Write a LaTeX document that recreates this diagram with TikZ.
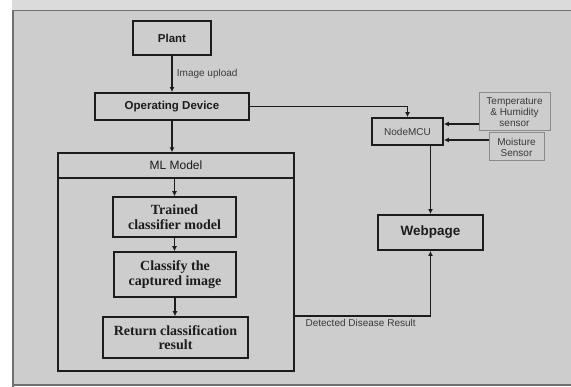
\documentclass[tikz,border=0pt]{standalone}
\usepackage{fontspec}
\setmainfont{Liberation Serif}
\setsansfont{Liberation Sans}
\usetikzlibrary{arrows.meta,calc}
\definecolor{bgfill}{HTML}{CDCDCD}
\definecolor{frameln}{HTML}{707070}
\definecolor{ink}{HTML}{1C1C1C}
\definecolor{sensorln}{HTML}{8A8A8A}
\definecolor{sensortx}{HTML}{3A3A3A}
\tikzset{
  box/.style={draw=ink, line width=1.9pt, fill=bgfill, inner sep=0pt, text=ink, align=center,
              font=\sffamily\bfseries\fontsize{11.5}{13}\selectfont},
  mlbox/.style={draw=ink, line width=1.4pt, inner sep=0pt},
  serifbox/.style={draw=ink, line width=1.5pt, fill=bgfill, inner sep=0pt, text=ink, align=center,
              font=\rmfamily\bfseries\fontsize{14}{14.5}\selectfont},
  sensorbox/.style={draw=sensorln, line width=1pt, fill=bgfill, inner sep=0pt, text=sensortx, align=center,
              font=\sffamily\fontsize{10}{11}\selectfont},
  arr/.style={draw=ink, line width=1.8pt, -{Latex[length=5pt,width=5pt]}},
  lbl/.style={inner sep=0pt, text=sensortx, font=\sffamily\fontsize{10}{12}\selectfont},
}
\begin{document}
\begin{tikzpicture}[x=1pt,y=-1pt]
\useasboundingbox (0,0) rectangle (571,387);
\fill[white] (0,0) rectangle (571,387);
\fill[black!14] (12,0) rectangle (571,10);
\fill[bgfill] (12,10) rectangle (575,385);
\draw[frameln, line width=1.6pt] (13,390) -- (13,10.5) -- (575,10.5);
\draw[frameln, line width=1.2pt] (13,385) -- (575,385);

% nodes
\node[box, minimum width=78pt, minimum height=34pt] (plant) at (172,38) {Plant};
\node[box, minimum width=154pt, minimum height=27pt] (od) at (172,106.5) {Operating Device};
\node[mlbox, minimum width=236pt, minimum height=218pt] (ml) at (176,262) {};
\node[mlbox, minimum width=236pt, minimum height=25pt, font=\sffamily\fontsize{12}{13}\selectfont, text=ink] (mlhead) at (176,165.5) {ML Model};
\node[serifbox, minimum width=123pt, minimum height=40pt] (trained) at (174.5,217) {Trained\\classifier model};
\node[serifbox, minimum width=122pt, minimum height=45pt] (classify) at (175,274.5) {Classify the\\captured image};
\node[serifbox, minimum width=145pt, minimum height=41pt] (ret) at (175.5,337.5) {Return classification\\result};
\node[box, line width=1.8pt, minimum width=71pt, minimum height=27pt, font=\sffamily\fontsize{10}{12}\selectfont, text=sensortx] (nodemcu) at (407.5,131.5) {NodeMCU};
\node[sensorbox, minimum width=71pt, minimum height=38pt] (temp) at (514.5,112) {Temperature\\\& Humidity\\sensor};
\node[sensorbox, minimum width=55pt, minimum height=28pt] (moist) at (516.5,147) {Moisture\\Sensor};
\node[box, minimum width=105pt, minimum height=35pt, font=\sffamily\bfseries\fontsize{13.5}{15}\selectfont] (web) at (430.5,232.5) {Webpage};

% connectors
\draw[arr] (plant.south) -- (od.north) node[lbl, pos=0.5, anchor=west, xshift=4pt] {Image upload};
\draw[arr] (od.east) -| (nodemcu.north);
\draw[arr] (od.south) -- (od.south |- mlhead.north);
\draw[arr] (mlhead.south -| trained.north) -- (trained.north);
\draw[arr] (trained.south) -- (trained.south |- classify.north);
\draw[arr] (classify.south) -- (classify.south |- ret.north);
\draw[arr, line width=1.4pt] ([yshift=7.5pt]nodemcu.east -| temp.west) -- ([yshift=7.5pt]nodemcu.east);
\draw[arr, line width=1.4pt] ([yshift=-8.5pt]nodemcu.east -| moist.west) -- ([yshift=-8.5pt]nodemcu.east);
\draw[arr] (web.north |- nodemcu.south) -- (web.north);
\draw[arr] (ml.east |- ret.north) -| (web.south)
  node[lbl, pos=0.0, anchor=north west, xshift=10pt, yshift=-2pt] {Detected Disease Result};
\end{tikzpicture}
\end{document}
